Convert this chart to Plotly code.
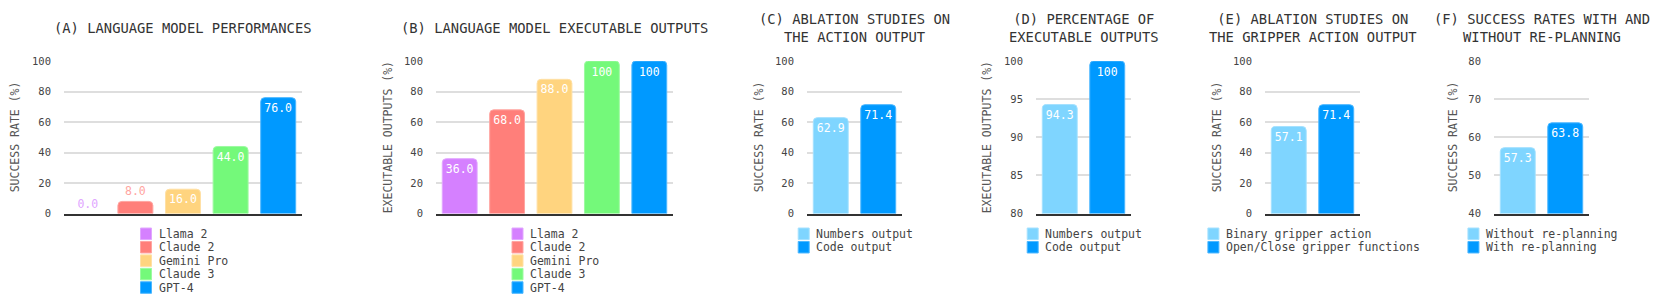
import plotly.graph_objects as go

# ---------------- data ----------------
models = ["Llama 2", "Claude 2", "Gemini Pro", "Claude 3", "GPT-4"]
model_colors = ["#D580FF", "#FF7F7A", "#FFD47F", "#74F97A", "#0099FF"]
success_rate_models = [0.0, 8.0, 16.0, 44.0, 76.0]
executable_models = [36.0, 68.0, 88.0, 100.0, 100.0]

action_labels = ["Numbers output", "Code output"]
action_success = [62.9, 71.4]
action_executable = [94.3, 100.0]

gripper_labels = ["Binary gripper action", "Open/Close gripper functions"]
gripper_success = [57.1, 71.4]

replan_labels = ["Without re-planning", "With re-planning"]
replan_success = [57.3, 63.8]

pair_colors = ["#7FD5FF", "#0099FF"]

titles = [
    "(A) LANGUAGE MODEL PERFORMANCES",
    "(B) LANGUAGE MODEL EXECUTABLE OUTPUTS",
    "(C) ABLATION STUDIES ON<br>THE ACTION OUTPUT",
    "(D) PERCENTAGE OF<br>EXECUTABLE OUTPUTS",
    "(E) ABLATION STUDIES ON<br>THE GRIPPER ACTION OUTPUT",
    "(F) SUCCESS RATES WITH AND<br>WITHOUT RE-PLANNING",
]
ytitles = ["SUCCESS RATE (%)", "EXECUTABLE OUTPUTS (%)", "SUCCESS RATE (%)",
           "EXECUTABLE OUTPUTS (%)", "SUCCESS RATE (%)", "SUCCESS RATE (%)"]
yranges = [[0, 100], [0, 100], [0, 100], [80, 100], [0, 100], [40, 80]]
ydticks = [20, 20, 20, 5, 20, 10]

panels = [
    (models, success_rate_models, model_colors),
    (models, executable_models, model_colors),
    (action_labels, action_success, pair_colors),
    (action_labels, action_executable, pair_colors),
    (gripper_labels, gripper_success, pair_colors),
    (replan_labels, replan_success, pair_colors),
]

# ---------------- layout geometry (window pixels) ----------------
# the page places the figure 8px from the top-left corner of the window
OX, OY = 8, 8
FW, FH = 1661 - OX, 306 - OY
plot_x = [(64, 302), (436, 673), (807, 902), (1036, 1131), (1265, 1360), (1494, 1589)]
plot_top, plot_bottom = 57, 216
ytitle_x = [15, 388, 759, 987, 1217, 1453]

FONT = "DejaVu Sans Mono"


def px(X):
    return (X - OX) / FW


def py(Y):
    return 1 - (Y - OY) / FH


def fmt(v):
    return "100" if v >= 100 else f"{v:.1f}"


def tint(hexc, f=0.35):
    hexc = hexc.lstrip("#")
    r, g, b = (int(hexc[i:i + 2], 16) for i in (0, 2, 4))
    r, g, b = (int(c + (255 - c) * f) for c in (r, g, b))
    return f"rgb({r},{g},{b})"


fig = go.Figure()
annotations = []
shapes = []

for i, ((cats, vals, cols), (x0, x1)) in enumerate(zip(panels, plot_x)):
    ax = "" if i == 0 else str(i + 1)
    lo, hi = yranges[i]
    plot_h = plot_bottom - plot_top
    for c, v, col in zip(cats, vals, cols):
        frac = (v - lo) / (hi - lo)
        inside = frac * plot_h > 18
        fig.add_trace(go.Bar(
            x=[c], y=[v], name=c, showlegend=False,
            marker=dict(color=col,
                        line=dict(color=tint(col, 0.3), width=1 if v > lo else 0)),
            text=[fmt(v)],
            textposition="inside" if inside else "outside",
            insidetextanchor="end",
            textangle=0,
            textfont=dict(family=FONT, size=11.5,
                          color="white" if inside else tint(col, 0.3)),
            cliponaxis=False,
            xaxis="x" + ax, yaxis="y" + ax,
        ))
    fig.layout["xaxis" + ax] = dict(
        domain=[px(x0), px(x1)], anchor="y" + ax, type="category",
        showticklabels=False, showgrid=False, zeroline=False,
        showline=True, linecolor="#333333", linewidth=2, fixedrange=True,
    )
    fig.layout["yaxis" + ax] = dict(
        domain=[py(plot_bottom), py(plot_top)], anchor="x" + ax,
        range=yranges[i], dtick=ydticks[i],
        tick0=lo, showgrid=True, gridcolor="#DEDEDE", gridwidth=1.5,
        zeroline=False, showline=False, ticks="", ticklabelstandoff=12,
        tickfont=dict(family=FONT, size=10.5, color="#444444"),
    )
    cx = (x0 + x1) / 2
    # panel title
    annotations.append(dict(
        text=titles[i], x=px(cx), y=py(22.5), xref="paper", yref="paper",
        xanchor="center", yanchor="middle", showarrow=False,
        font=dict(family=FONT, size=13.8, color="#333333"),
    ))
    # y-axis title
    annotations.append(dict(
        text=ytitles[i], x=px(ytitle_x[i]), y=py((plot_top + plot_bottom) / 2),
        xref="paper", yref="paper", xanchor="center", yanchor="middle",
        textangle=-90, showarrow=False,
        font=dict(family=FONT, size=11.5, color="#555555"),
    ))
    # legend (one entry per bar)
    charw = 6.9
    lw = 16 + max(len(c) for c in cats) * charw
    lx = cx - lw / 2
    for k, (c, col) in enumerate(zip(cats, cols)):
        yc = 237 + 14 * k
        shapes.append(dict(
            type="rect", xref="paper", yref="paper",
            x0=px(lx), x1=px(lx + 11),
            y0=py(yc + 6), y1=py(yc - 6),
            fillcolor=col, line=dict(width=1, color=tint(col, 0.3)),
        ))
        annotations.append(dict(
            text=c, x=px(lx + 16), y=py(yc), xref="paper", yref="paper",
            xanchor="left", yanchor="middle", showarrow=False,
            font=dict(family=FONT, size=11.5, color="#444444"),
        ))

fig.update_layout(
    width=FW, height=FH, margin=dict(l=0, r=0, t=0, b=0),
    paper_bgcolor="white", plot_bgcolor="white",
    barmode="overlay", bargap=0.265, barcornerradius=4,
    showlegend=False, annotations=annotations, shapes=shapes,
    font=dict(family=FONT),
)

fig.write_html("out.html")
